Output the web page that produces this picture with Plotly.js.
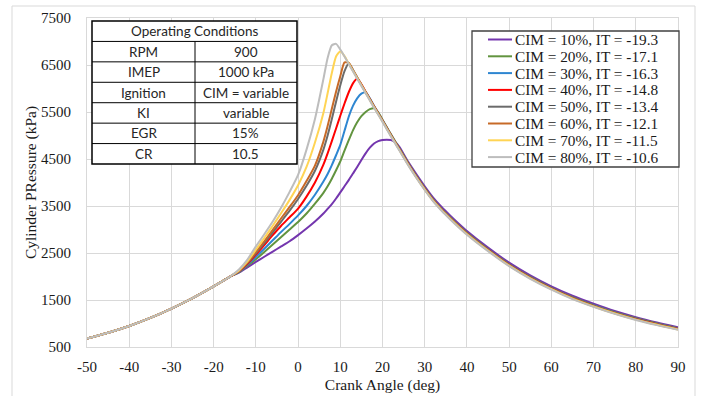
<!DOCTYPE html>
<html>
<head>
<meta charset="utf-8">
<script src="https://cdn.plot.ly/plotly-3.0.1.min.js"></script>
<style>html,body{margin:0;padding:0;background:#fff;}#chart{width:704px;height:396px;}</style>
</head>
<body>
<div id="chart"></div>
<script>
// ---------- DATA ----------
const crankAngle = [-50,-45,-40,-35,-30,-25,-20,-18,-16,-14,-12,-10,-8,-6,-4,-2,0,2,4,6,7,8,9,10,11,12,13,14,15,16,17,18,19,20,21,22,23,24,26,28,30,32,34,36,38,40,45,50,55,60,65,70,75,80,85,90];

const cim10 = [680,802,947,1118,1317,1540,1790,1895,2005,
  2080,2195,2310,2420,2530,2640,2750,
  2880,3020,3170,3340,
  3440,3540,3660,3790,3920,4050,4190,4330,4480,4620,4740,4830,4880,4905,4912,4905,4860,4760,
  4450,4180,3920,3680,3480,3300,3130,2970,
  2615,2295,2025,1790,1590,1420,1265,1135,1022,920];
const cim20 = [680,802,947,1118,1317,1540,1790,1895,2005,
  2090,2230,2366,2520,2680,2840,3000,
  3160,3340,3550,3780,
  3920,4080,4260,4450,4680,4900,5110,5280,5410,5500,5560,5580,5490,5335,5180,5025,4875,4725,
  4425,4140,3880,3640,3440,3260,3090,2930,
  2580,2260,1990,1760,1560,1390,1240,1110,1000,900];
const cim30 = [680,802,947,1118,1317,1540,1790,1895,2005,
  2100,2250,2415,2590,2770,2950,3120,
  3300,3500,3740,4020,
  4180,4370,4580,4800,5100,5400,5630,5790,5890,5920,5790,5630,5477,5325,5170,5015,4865,4715,
  4415,4132,3872,3632,3432,3252,3082,2922,
  2572,2252,1982,1752,1552,1382,1232,1102,992,892];
const cim40 = [680,802,947,1118,1317,1540,1790,1895,2005,
  2110,2270,2465,2670,2880,3080,3260,
  3445,3700,4000,4380,
  4620,4880,5150,5420,5680,5920,6110,6205,6090,5930,5775,5620,5470,5318,5163,5008,4858,4708,
  4408,4126,3866,3626,3426,3246,3076,2916,
  2566,2246,1976,1746,1546,1376,1226,1096,986,886];
const cim50 = [680,802,947,1118,1317,1540,1790,1895,2005,
  2115,2290,2495,2710,2940,3170,3400,
  3650,3930,4250,4700,
  5000,5350,5720,6070,6370,6530,6400,6240,6080,5925,5770,5615,5465,5313,5158,5003,4853,4703,
  4403,4122,3862,3622,3422,3242,3072,2912,
  2562,2242,1972,1742,1542,1372,1222,1092,982,882];
const cim60 = [680,802,947,1118,1317,1540,1790,1895,2005,
  2120,2300,2520,2750,2990,3240,3480,
  3730,4030,4360,4870,
  5200,5570,5930,6260,6555,6545,6390,6235,6078,5922,5767,5612,5462,5310,5155,5000,4850,4700,
  4400,4118,3858,3618,3418,3238,3068,2908,
  2558,2238,1968,1738,1538,1368,1218,1088,978,878];
const cim70 = [680,802,947,1118,1317,1540,1790,1895,2005,
  2130,2320,2570,2820,3080,3350,3630,
  3940,4330,4850,5480,
  5900,6330,6680,6790,6690,6530,6375,6220,6065,5910,5755,5600,5450,5300,5145,4990,4840,4690,
  4390,4110,3850,3610,3410,3230,3060,2900,
  2550,2230,1960,1730,1530,1362,1212,1082,972,872];
const cim80 = [680,802,947,1118,1317,1540,1790,1895,2005,
  2150,2360,2640,2900,3170,3470,3800,
  4160,4700,5350,6200,
  6650,6920,6950,6830,6680,6520,6365,6210,6055,5900,5745,5590,5440,5290,5135,4980,4830,4680,
  4380,4100,3840,3600,3400,3220,3050,2890,
  2540,2220,1950,1720,1520,1355,1205,1075,965,865];

const seriesNames = ['CIM = 10%, IT = -19.3','CIM = 20%, IT = -17.1','CIM = 30%, IT = -16.3','CIM = 40%, IT = -14.8',
                     'CIM = 50%, IT = -13.4','CIM = 60%, IT = -12.1','CIM = 70%, IT = -11.5','CIM = 80%, IT = -10.6'];
const seriesValues = [cim10, cim20, cim30, cim40, cim50, cim60, cim70, cim80];
const seriesColors = ['#7436AE','#62943F','#2E86D1','#FF0000','#6B6B6B','#C76A28','#FFD454','#BDBDBD'];

const tableTitle = 'Operating Conditions';
const tableLabels = ['RPM','IMEP','Ignition','KI','EGR','CR'];
const tableValues = ['900','1000 kPa','CIM = variable','variable','15%','10.5'];

const xTicks = [-50,-40,-30,-20,-10,0,10,20,30,40,50,60,70,80,90];
const yTicks = [500,1500,2500,3500,4500,5500,6500,7500];

// ---------- LAYOUT HELPERS (pixel -> paper) ----------
const W = 704, H = 396;
const mL = 87, mR = 26, mT = 18, mB = 49;
const pw = W - mL - mR, ph = H - mT - mB;
const px = v => (v - mL) / pw;
const py = v => (H - mB - v) / ph;

const serif = 'Liberation Serif, Times New Roman, serif';
const sans = 'Lato, Carlito, Calibri, sans-serif';

const traces = seriesValues.map((vals, i) => ({
  type: 'scatter', mode: 'lines', x: crankAngle, y: vals, name: seriesNames[i],
  line: {color: seriesColors[i], width: 2, shape: 'spline', smoothing: 0.6},
  showlegend: false, hoverinfo: 'skip'
}));

const shapes = [];
const annotations = [];

// outer frame
shapes.push({type:'rect', xref:'paper', yref:'paper', x0:px(12), x1:px(695), y0:py(6), y1:py(420),
  line:{color:'#D9D9D9', width:1}, fillcolor:'rgba(0,0,0,0)', layer:'below'});

// table
const tL = 92, tR = 297, tMid = 195, tTop = 21, tBot = 164;
const rows = tableLabels.length + 1;
const rh = (tBot - tTop) / rows;
shapes.push({type:'rect', xref:'paper', yref:'paper', x0:px(tL), x1:px(tR), y0:py(tTop), y1:py(tBot),
  line:{color:'#000', width:1.5}, fillcolor:'#fff', layer:'above'});
for (let r = 1; r < rows; r++) {
  shapes.push({type:'line', xref:'paper', yref:'paper', x0:px(tL), x1:px(tR), y0:py(tTop + r*rh), y1:py(tTop + r*rh),
    line:{color:'#000', width:1}});
}
shapes.push({type:'line', xref:'paper', yref:'paper', x0:px(tMid), x1:px(tMid), y0:py(tTop + rh), y1:py(tBot),
  line:{color:'#000', width:1}});
annotations.push({xref:'paper', yref:'paper', x:px((tL+tR)/2), y:py(tTop + rh/2), text:tableTitle, showarrow:false,
  xanchor:'center', yanchor:'middle', font:{family:sans, size:13.5, color:'#262626'}});
tableLabels.forEach((lab, i) => {
  const cy = tTop + (i + 1.5) * rh;
  annotations.push({xref:'paper', yref:'paper', x:px((tL+tMid)/2), y:py(cy), text:lab, showarrow:false,
    xanchor:'center', yanchor:'middle', font:{family:sans, size:13.5, color:'#262626'}});
  annotations.push({xref:'paper', yref:'paper', x:px((tMid+tR)/2), y:py(cy), text:tableValues[i], showarrow:false,
    xanchor:'center', yanchor:'middle', font:{family:sans, size:13.5, color:'#262626'}});
});

// legend
const lgL = 472, lgR = 679, lgT = 31, lgB = 167;
shapes.push({type:'rect', xref:'paper', yref:'paper', x0:px(lgL), x1:px(lgR), y0:py(lgT), y1:py(lgB),
  line:{color:'#404040', width:1.3}, fillcolor:'#fff', layer:'above'});
const rowH = 16.8, firstY = 39.5;
seriesNames.forEach((nm, i) => {
  const cy = firstY + i * rowH;
  shapes.push({type:'line', xref:'paper', yref:'paper', x0:px(488), x1:px(512), y0:py(cy), y1:py(cy),
    line:{color:seriesColors[i], width:2}});
  annotations.push({xref:'paper', yref:'paper', x:px(513), y:py(cy), text:nm, showarrow:false,
    xanchor:'left', yanchor:'middle', font:{family:serif, size:15.3, color:'#1a1a1a'}});
});

const layout = {
  width: W, height: H,
  margin: {l:mL, r:mR, t:mT, b:mB, pad:0},
  paper_bgcolor:'#fff', plot_bgcolor:'#fff',
  showlegend:false,
  xaxis: {
    range:[-50, 90], tickvals:xTicks, ticktext:xTicks.map(String), ticks:'', ticklabelstandoff:6,
    showgrid:true, gridcolor:'#D9D9D9', gridwidth:1, zeroline:false,
    showline:true, linecolor:'#D9D9D9', linewidth:1, mirror:true,
    tickfont:{family:serif, size:15, color:'#1a1a1a'},
    title:{text:'Crank Angle (deg)', font:{family:serif, size:15.5, color:'#1a1a1a'}, standoff:5}
  },
  yaxis: {
    range:[500, 7500], tickvals:yTicks, ticktext:yTicks.map(String), ticks:'', ticklabelstandoff:12,
    showgrid:true, gridcolor:'#D9D9D9', gridwidth:1, zeroline:false,
    showline:true, linecolor:'#D9D9D9', linewidth:1, mirror:true,
    tickfont:{family:serif, size:15, color:'#1a1a1a'},
    title:{text:'Cylinder PRessure (kPa)', font:{family:serif, size:15.5, color:'#1a1a1a'}, standoff:0}
  },
  shapes: shapes,
  annotations: annotations
};

Plotly.newPlot('chart', traces, layout, {staticPlot:true, displayModeBar:false});
</script>
</body>
</html>
